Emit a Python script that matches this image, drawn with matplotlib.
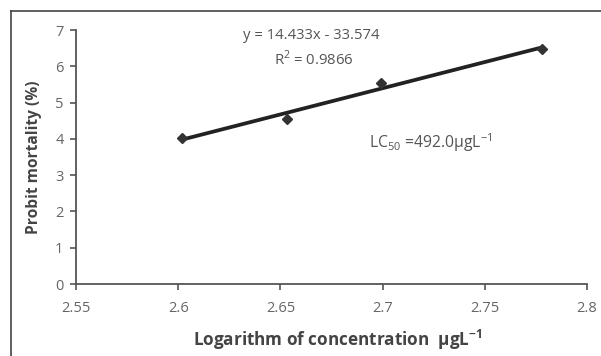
import matplotlib.pyplot as plt
from matplotlib.lines import Line2D
import numpy as np

# data
log_conc = [2.602, 2.653, 2.699, 2.778]
probit = [4.02, 4.55, 5.53, 6.49]
slope = 14.433
intercept = -33.574
r2 = 0.9866
x_ticks = [2.55, 2.6, 2.65, 2.7, 2.75, 2.8]
x_tick_labels = ['2.55', '2.6', '2.65', '2.7', '2.75', '2.8']
y_ticks = [0, 1, 2, 3, 4, 5, 6, 7]

plt.rcParams['font.family'] = ['Open Sans', 'DejaVu Sans']

fig = plt.figure(figsize=(6.01, 3.56), dpi=100)
ax = fig.add_axes([76 / 601, 72 / 356, 511 / 601, 254 / 356])

# outer frame
fig.add_artist(Line2D([11 / 601, 11 / 601], [0, 345 / 356], color='#444444', lw=1.2))
fig.add_artist(Line2D([11 / 601, 1], [345 / 356, 345 / 356], color='#444444', lw=1.2))

# trend line + points
xs = np.array([log_conc[0], log_conc[-1]])
ax.plot(xs, slope * xs + intercept, color='#222222', lw=2.7, zorder=2)
ax.plot(log_conc, probit, linestyle='none', marker='D', markersize=5,
        color='#333333', zorder=3)

ax.set_xlim(2.55, 2.8)
ax.set_ylim(0, 7)
ax.set_xticks(x_ticks)
ax.set_xticklabels(x_tick_labels)
ax.set_yticks(y_ticks)

for s in ['top', 'right']:
    ax.spines[s].set_visible(False)
for s in ['left', 'bottom']:
    ax.spines[s].set_color('#555555')
    ax.spines[s].set_linewidth(1.3)
ax.tick_params(axis='both', colors='#555555', labelcolor='#666666',
               labelsize=10.5, length=4, width=1.2, direction='out')
ax.tick_params(axis='x', pad=8)
ax.tick_params(axis='y', pad=5)

ax.set_xlabel('Logarithm of concentration  \u03bcgL$^{\\mathregular{-1}}$',
              fontsize=12.3, fontweight='bold', color='#444444', labelpad=9)
ax.xaxis.label.set_x(0.513)
ax.set_ylabel('Probit mortality (%)', fontsize=11.2, fontweight='bold',
              color='#444444', labelpad=9)

ax.text(2.665, 6.84, 'y = 14.433x - 33.574', ha='center', va='center',
        fontsize=10.7, color='#555555')
ax.text(2.6665, 6.18, 'R$^{\\mathregular{2}}$ = %.4f' % r2, ha='center', va='center',
        fontsize=10.7, color='#555555')
ax.text(2.7237, 3.89, 'LC$_{\\mathregular{50}}$ =492.0\u03bcgL$^{\\mathregular{-1}}$',
        ha='center', va='center', fontsize=11.3, color='#555555')

fig.savefig('out.png', dpi=100)
